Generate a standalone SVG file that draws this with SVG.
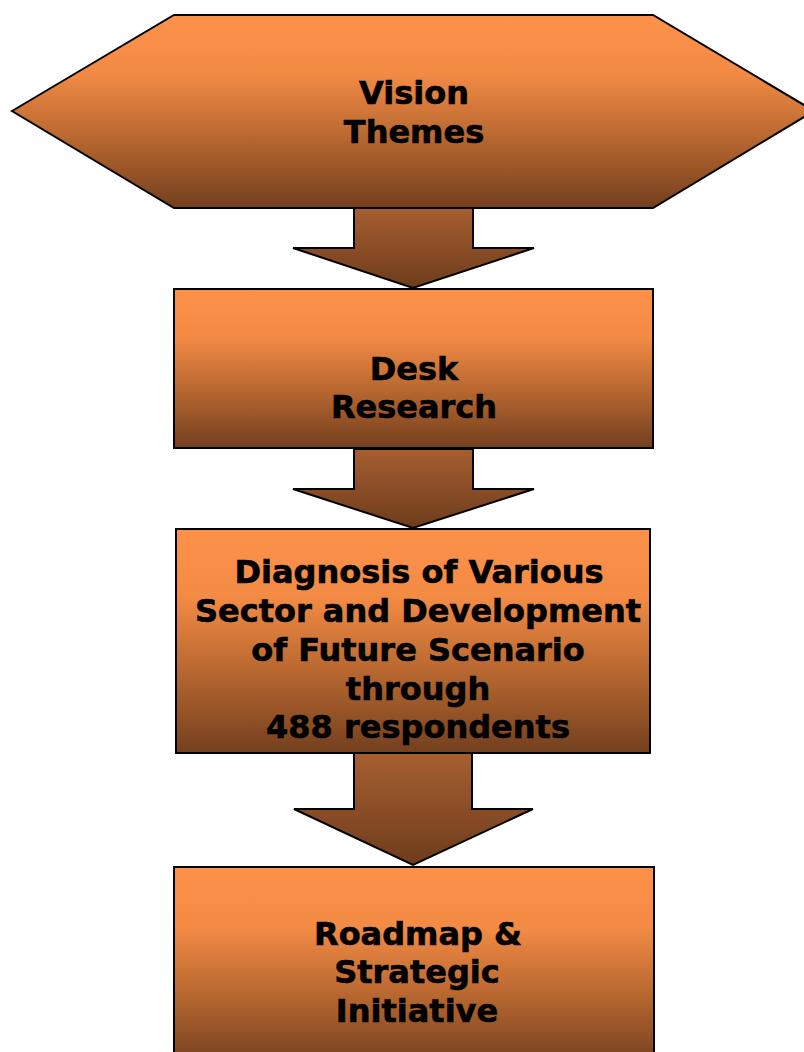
<svg xmlns="http://www.w3.org/2000/svg" width="804" height="1052" viewBox="0 0 804 1052">
  <style>
    .shape { stroke: #000; stroke-width: 2; stroke-linejoin: miter; }
    .box { fill: url(#boxGrad); }
    .arrow { fill: url(#arrowGrad); }
    .label { font-family: "DejaVu Sans", Verdana, sans-serif; font-weight: bold; font-size: 32px; fill: #000; stroke: #000; stroke-width: 0.6; text-anchor: middle; }
  </style>
  <defs>
    <linearGradient id="boxGrad" x1="0" y1="0" x2="0" y2="1">
      <stop offset="0" stop-color="#FD914A"/>
      <stop offset="0.3" stop-color="#F38B45"/>
      <stop offset="0.65" stop-color="#B5662F"/>
      <stop offset="1" stop-color="#733F1E"/>
    </linearGradient>
    <linearGradient id="arrowGrad" x1="0" y1="0" x2="0" y2="1">
      <stop offset="0" stop-color="#A65F31"/>
      <stop offset="1" stop-color="#6E3C1C"/>
    </linearGradient>
  </defs>
  <rect width="804" height="1052" fill="#fff"/>

  <g id="connectors">
    <polygon class="shape arrow" points="354,208 473,208 473,248 534,248 413,288 293,248 354,248"/>
    <polygon class="shape arrow" points="354,449 473,449 473,489 534,489 413,528 293,489 354,489"/>
    <polygon class="shape arrow" points="354,753 472,753 472,809 533,809 413,865 294,809 354,809"/>
  </g>

  <g id="vision-themes">
    <polygon class="shape box" points="12,111 174,15 653,15 814,111 653,208 174,208"/>
    <text class="label" x="414" y="104">Vision</text>
    <text class="label" x="414" y="143">Themes</text>
  </g>

  <g id="desk-research">
    <rect class="shape box" x="174" y="289" width="479" height="159"/>
    <text class="label" x="414" y="380">Desk</text>
    <text class="label" x="414" y="418">Research</text>
  </g>

  <g id="diagnosis">
    <rect class="shape box" x="176" y="529" width="474" height="224"/>
    <text class="label" x="419" y="583">Diagnosis of Various</text>
    <text class="label" x="418" y="622">Sector and Development</text>
    <text class="label" x="418" y="661">of Future Scenario</text>
    <text class="label" x="418" y="700">through</text>
    <text class="label" x="418" y="738">488 respondents</text>
  </g>

  <g id="roadmap">
    <rect class="shape box" x="174" y="867" width="480" height="200"/>
    <text class="label" x="418" y="945">Roadmap &amp;</text>
    <text class="label" x="417" y="983">Strategic</text>
    <text class="label" x="417" y="1022">Initiative</text>
  </g>
</svg>
